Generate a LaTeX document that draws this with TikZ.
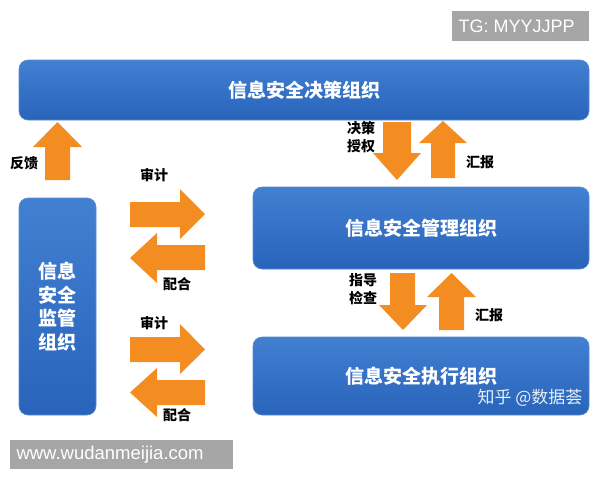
\documentclass[tikz,border=0pt]{standalone}
\usepackage{fontspec}
\setmainfont{Liberation Sans}
\newfontfamily\cjk{Noto Sans CJK SC}
\usetikzlibrary{positioning}

\definecolor{boxblue}{RGB}{47,110,196}
\definecolor{boxtop}{RGB}{66,128,210}
\definecolor{boxbot}{RGB}{40,100,186}
\definecolor{arroworange}{RGB}{243,141,34}
\definecolor{tagGray}{RGB}{166,166,166}

\tikzset{
  orgbox/.style={rounded corners=9pt, top color=boxtop, bottom color=boxbot,
    draw=boxblue!80!white, line width=0.6pt, text=white,
    font=\cjk\bfseries\fontsize{19}{23}\selectfont, inner sep=0pt},
  blockarrow/.style={fill=arroworange},
  lbl/.style={font=\cjk\bfseries\fontsize{14}{18}\selectfont, inner sep=0pt, align=left},
  tag/.style={fill=tagGray, text=white, inner sep=0pt, anchor=north west,
    font=\fontsize{18}{20}\selectfont}
}

\begin{document}
\begin{tikzpicture}[x=1pt,y=-1pt]
\useasboundingbox (0,0) rectangle (600,480);

% watermarks
\node[tag, minimum width=137pt, minimum height=30pt] (tg) at (452,11) {};
\node[font=\fontsize{18}{20}\selectfont, text=white, anchor=west] at (455,26) {TG: MYYJJPP};
\node[tag, minimum width=223pt, minimum height=29pt] (www) at (10,440) {};
\node[font=\fontsize{18.5}{20}\selectfont, text=white, anchor=west] at (13,455) {www.wudanmeijia.com};

% boxes
\node[orgbox, minimum width=570pt, minimum height=60pt] (jc) at (304,90) {信息安全决策组织};
\node[orgbox, minimum width=336pt, minimum height=82pt] (gl) at (421,228) {信息安全管理组织};
\node[orgbox, minimum width=336pt, minimum height=78pt] (zx) at (421,376) {信息安全执行组织};
\node[orgbox, minimum width=77pt, minimum height=217pt, align=center,
  font=\cjk\bfseries\fontsize{19}{23.5}\selectfont] (jg) at (57.5,306.5) {信息\\安全\\监管\\组织};
\node[font=\cjk\fontsize{17}{20}\selectfont, text=white!88!boxblue, anchor=east] at (586,398) {知乎 @数据荟};

% feedback
\fill[blockarrow] (45,180) -- (45,147) -- (33,147) -- (57.5,122) -- (82,147) -- (70,147) -- (70,180) -- cycle;
\node[lbl] at (24,163) {反馈};

% decision <-> management
\fill[blockarrow] (383,122) -- (411,122) -- (411,153) -- (421,153) -- (397,180) -- (373,153) -- (383,153) -- cycle;
\fill[blockarrow] (431,178) -- (431,143) -- (419,143) -- (443,121) -- (467,143) -- (455,143) -- (455,178) -- cycle;
\node[lbl] at (361,137.5) {决策\\授权};
\node[lbl] at (480,162) {汇报};

% management <-> execution
\fill[blockarrow] (390,273) -- (415,273) -- (415,305) -- (427,305) -- (403,330) -- (379,305) -- (390,305) -- cycle;
\fill[blockarrow] (439,330) -- (439,297) -- (427,297) -- (451.5,273) -- (476,297) -- (464,297) -- (464,330) -- cycle;
\node[lbl] at (363,289) {指导\\检查};
\node[lbl] at (489,315) {汇报};

% supervision <-> management
\fill[blockarrow] (130,202) -- (180,202) -- (180,189) -- (205,214) -- (180,239) -- (180,227) -- (130,227) -- cycle;
\fill[blockarrow] (205,245) -- (157,245) -- (157,233) -- (130,258) -- (157,283) -- (157,270) -- (205,270) -- cycle;
\node[lbl] at (154,175) {审计};
\node[lbl] at (177,284) {配合};

% supervision <-> execution
\fill[blockarrow] (130,337) -- (180,337) -- (180,324) -- (205,349.5) -- (180,374) -- (180,362) -- (130,362) -- cycle;
\fill[blockarrow] (205,380) -- (157,380) -- (157,368) -- (130,392.5) -- (157,417) -- (157,405) -- (205,405) -- cycle;
\node[lbl] at (154,323) {审计};
\node[lbl] at (177,415) {配合};
\end{tikzpicture}
\end{document}
